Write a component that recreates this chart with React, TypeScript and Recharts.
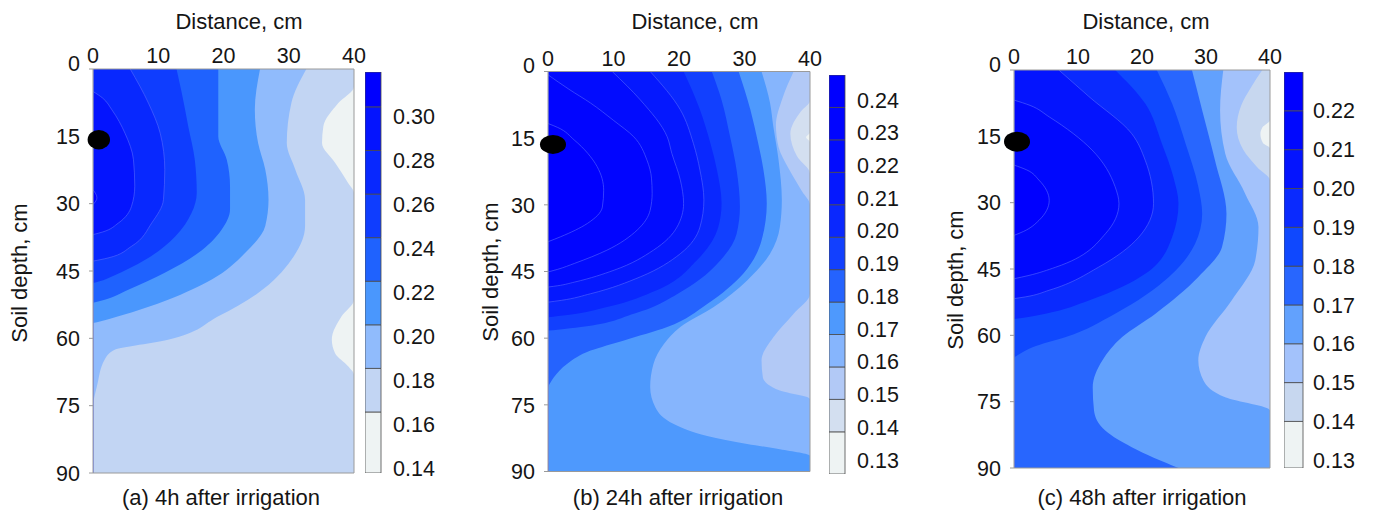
import React from 'react';
import { ComposedChart, Area, XAxis, YAxis, ReferenceDot, BarChart, Bar } from 'recharts';

const FONT = '"Liberation Sans", Arial, Helvetica, sans-serif';
const TEXT = '#151515';
const EDGE = '#9a9a9a';
const TICK_FS = 21.5;
const TITLE_FS = 22;

const distanceTicks = [0, 10, 20, 30, 40];
const depthTicks = [0, 15, 30, 45, 60, 75, 90];
const rightDepthTicks = [10, 20, 30, 40, 50, 60, 70, 80];
const bottomDistanceTicks = [10, 20, 30];

// ---------- (a) 4h after irrigation ----------
// contour boundaries: [depth cm, distance cm] ; region "value > level" lies left of the boundary
const aEdges = [0.132, 0.16, 0.18, 0.2, 0.22, 0.24, 0.26, 0.28, 0.3, 0.316];
const aTicks = [0.14, 0.16, 0.18, 0.2, 0.22, 0.24, 0.26, 0.28, 0.3];
const aColors = ['#eef3f3', '#c2d5f3', '#90bbfc', '#4a97fd', '#1f62fe', '#0f3dfe', '#0828fe', '#0414fe', '#0000fe'];
const aAll = [[0, 40], [90, 40]];
const a16 = [[0, 40], [3.9, 40], [7.6, 37.6], [12.8, 35.3], [16.5, 35.1], [20.9, 37.1], [25.4, 39.1], [27.6, 40], [51.4, 40], [55.1, 38.1], [60.3, 36.6], [63.3, 37.1], [66.2, 39.1], [68.1, 40], [90, 40]];
const a18 = [[0, 32.7], [7.6, 30.4], [16.5, 29.7], [22.4, 31.0], [29.1, 32.5], [35, 32.5], [42.5, 30.4], [49.9, 25.3], [55.1, 19.2], [60.3, 11.5], [61.6, 6.5], [62.5, 3.4], [64.7, 1.8], [70.7, 0.6], [74.4, 0]];
const a20 = [[0, 25.6], [9.1, 24.8], [16.5, 25.3], [22.4, 26.4], [29.1, 26.9], [35, 26.4], [41, 23.3], [46.9, 18.2], [51.4, 11.5], [55.1, 3.9], [56.2, 1.2], [56.6, 0]];
const a22 = [[0, 19.2], [15, 19.2], [20.2, 20.5], [26.1, 21.0], [31.3, 21.0], [35.8, 19.7], [41, 16.1], [45.4, 11.0], [49.2, 5.4], [51.4, 1.8], [52.1, 0]];
const a24 = [[0, 12.8], [5.3, 13.6], [12.8, 14.6], [20.2, 15.6], [27.6, 15.9], [32.1, 15.1], [37.3, 12.6], [42.5, 8.0], [46.2, 2.9], [47.3, 1], [47.7, 0]];
const a26 = [[0, 5.7], [7.6, 8.5], [14.3, 10.3], [22.4, 11.0], [29.1, 10.8], [34.3, 9.0], [39.5, 5.9], [42.1, 2.3], [42.8, 0]];
const a28 = [[5, 0], [6.5, 1.5], [9.1, 2.9], [14.3, 4.9], [20.2, 6.2], [26.1, 6.4], [30.6, 5.9], [34.3, 3.9], [36.3, 1.5], [36.9, 0]];
const a30 = [[26.9, 0], [28.7, 0.6], [30.2, 0]];
const aRegions = [aAll, a16, a18, a20, a22, a24, a26, a28, a30];
const aEmitter = [0.89, 15.75];

// ---------- (b) 24h after irrigation ----------
const bEdges = [0.127, 0.14, 0.15, 0.16, 0.17, 0.18, 0.19, 0.2, 0.21, 0.22, 0.23, 0.24, 0.25];
const bTicks = [0.13, 0.14, 0.15, 0.16, 0.17, 0.18, 0.19, 0.2, 0.21, 0.22, 0.23, 0.24];
const bColors = ['#eef3f3', '#d3dff0', '#b2c9f6', '#86b5fd', '#4e99fd', '#2563fe', '#1240fe', '#0a28fe', '#0518fe', '#020cfe', '#0105ff', '#0000ff'];
const bAll = [[0, 40], [90, 40]];
const b14 = [[0, 40], [13.7, 40], [14.8, 39.4], [15.9, 40], [90, 40]];
const b15 = [[0, 40], [6.5, 40], [9, 38.6], [14, 37.0], [19, 38.0], [23, 40], [90, 40]];
const b16 = [[0, 37.5], [6, 35.8], [12, 34.8], [17, 35.2], [22, 36.8], [27, 38.8], [30, 40], [50, 40], [54.5, 37.5], [59.8, 34.4], [65, 32.6], [68.8, 32.8], [71.8, 35.4], [73.7, 40], [90, 40]];
const b17 = [[0, 32.6], [7.1, 33.9], [12.4, 34.4], [19.9, 35.2], [28.9, 35.7], [35, 35.4], [41, 33.9], [47, 30.4], [53, 25.3], [57.5, 20.2], [61.3, 17.7], [65.8, 16.1], [71, 15.6], [75.6, 16.4], [79.3, 19.2], [82, 24.3], [83.8, 30.4], [85, 35.4], [86.5, 40], [90, 40]];
const b18 = [[0, 29.1], [8.6, 30.9], [16.2, 32.1], [22.2, 32.9], [29.7, 33.4], [38, 32.6], [45.5, 29.8], [52.3, 24.3], [57.5, 18.2], [60.5, 11.6], [62.8, 6.5], [65.8, 2.9], [68.8, 0.9], [71, 0]];
const b19 = [[0, 25.0], [6.4, 26.5], [14.7, 27.8], [22.2, 28.8], [30.5, 29.3], [36.5, 28.8], [42.5, 26.3], [49.2, 20.7], [54.5, 13.1], [57.5, 5.0], [58.1, 1.5], [58.3, 0]];
const b20 = [[0, 20.7], [8.6, 23.2], [16.2, 24.8], [22.2, 25.8], [29.7, 26.5], [35, 26.0], [42.5, 22.7], [49.2, 16.6], [53, 9.0], [54.8, 3], [55.3, 0]];
const b21 = [[0, 15.6], [8.6, 20.2], [16.2, 22.2], [22.2, 23.2], [28.9, 23.8], [35, 23.2], [41, 20.2], [46.2, 14.1], [50, 6.5], [51.5, 2], [51.9, 0]];
const b22 = [[0, 9.8], [6.4, 14.1], [14.7, 18.2], [18.4, 18.9], [24.4, 20.2], [29.7, 20.7], [35, 19.7], [40.2, 16.1], [44.7, 10.1], [47.4, 4.0], [48.2, 1.5], [48.5, 0]];
const b23 = [[0.75, 0], [4, 3.2], [7.1, 6.5], [11, 10.0], [14.7, 13.1], [19.9, 15.1], [24, 15.8], [27.4, 15.9], [31.2, 15.6], [35.7, 13.6], [40.2, 9.0], [43.2, 4.0], [44.5, 1.5], [45.1, 0]];
const b24 = [[11.7, 0], [12.6, 1.5], [15.4, 4.0], [21.4, 7.5], [26.7, 8.5], [30.5, 8.3], [34.2, 6.0], [37.2, 1.9], [38.3, 0]];
const bRegions = [bAll, b14, b15, b16, b17, b18, b19, b20, b21, b22, b23, b24];
const bEmitter = [0.76, 16.4];

// ---------- (c) 48h after irrigation ----------
const cEdges = [0.128, 0.14, 0.15, 0.16, 0.17, 0.18, 0.19, 0.2, 0.21, 0.22, 0.23];
const cTicks = [0.13, 0.14, 0.15, 0.16, 0.17, 0.18, 0.19, 0.2, 0.21, 0.22];
const cColors = ['#eef3f3', '#c7d7ef', '#a3c2fb', '#62a1fd', '#2866fe', '#0f48fe', '#0a2afe', '#0414fe', '#0008fe', '#0000ff'];
const cAll = [[0, 40], [90, 40]];
const c14 = [[0, 40], [11.3, 40], [13, 38.8], [14.5, 38.5], [16.5, 38.9], [17.7, 40], [90, 40]];
const c15 = [[0, 38.8], [4, 37], [8, 35.5], [13, 34.8], [18, 35.8], [22, 38], [25, 40], [90, 40]];
const c16 = [[0, 32.7], [9.1, 32.2], [18.9, 33], [27.9, 36.1], [35.5, 38.2], [43, 37.7], [52.1, 34], [60.4, 29.9], [65.7, 28.8], [70.2, 29.6], [74, 33], [77, 40], [90, 40]];
const c17 = [[0, 27.8], [9.1, 29.4], [20.4, 31.4], [32.5, 33.2], [40, 32.5], [46.8, 28.8], [55.1, 22.1], [60.4, 16.9], [65.7, 13.8], [71.8, 12.3], [77, 12.5], [81.6, 14.3], [85.3, 18.4], [90, 25.7]];
const c18 = [[0, 22.3], [7.6, 24.7], [16.6, 26.8], [26.4, 28.8], [32.5, 29.4], [39.3, 28.3], [46.8, 24.2], [55.1, 15.8], [60.4, 8.1], [62.7, 2.9], [64.3, 0.8], [65, 0]];
const c19 = [[0, 15.8], [7.6, 20.5], [16.6, 23.1], [24.2, 24.9], [30.2, 25.7], [37.8, 24.7], [46.1, 20.5], [52.1, 11.7], [55.1, 4.9], [56, 1.5], [56.3, 0]];
const c20 = [[0, 7.0], [6, 11.7], [14.4, 18.4], [20.4, 20.5], [30.2, 21.8], [37.8, 19.5], [44.6, 13.2], [49.8, 5.5], [51.3, 1.8], [51.7, 0]];
const c21 = [[6.8, 0], [8, 2.5], [10.6, 5.5], [18.1, 12.2], [26.4, 15.8], [30.2, 16.4], [37, 14.3], [44.6, 6.5], [46.5, 2.2], [47.2, 0]];
const c22 = [[21.5, 0], [22.6, 2], [24.9, 3.9], [29.5, 5.5], [34, 3.9], [36.5, 1.5], [37.4, 0]];
const cRegions = [cAll, c14, c15, c16, c17, c18, c19, c20, c21, c22];
const cEmitter = [0.47, 16.2];

function buildRows(regions: number[][][]) {
  const map = new Map<number, Record<string, any>>();
  regions.forEach((pts, i) => {
    pts.forEach(([d, x]) => {
      const row = map.get(d) ?? { d };
      row['k' + i] = [0, x];
      map.set(d, row);
    });
  });
  return Array.from(map.values()).sort((p, q) => p.d - q.d);
}

const DepthTick = (props: any) => {
  const { x, y, payload } = props;
  const dy = payload.value === 0 ? -6 : 0;
  return (
    <text x={x} y={y + dy} dy="0.36em" textAnchor="end" fontSize={TICK_FS} fill={TEXT}>
      {payload.value}
    </text>
  );
};

type PanelProps = {
  x0: number; w: number;
  plot: { l: number; t: number; r: number; b: number };
  regions: number[][][]; colors: string[]; lineFrom: number;
  emitter: number[]; rx: number; ry: number;
};

function ContourPanel({ x0, w, plot, regions, colors, lineFrom, emitter, rx, ry }: PanelProps) {
  const rows = buildRows(regions);
  const margin = { left: plot.l - x0 - 40, top: plot.t - 30, right: x0 + w - plot.r - 6, bottom: 513 - plot.b - 6 };
  return (
    <div style={{ position: 'absolute', left: x0, top: 0 }}>
      <ComposedChart layout="vertical" width={w} height={513} data={rows} margin={margin}>
        {regions.map((_, i) => (
          <Area
            key={i}
            xAxisId="top"
            yAxisId="left"
            dataKey={'k' + i}
            type="monotone"
            connectNulls
            fill={colors[i]}
            fillOpacity={1}
            stroke={i >= lineFrom ? '#5b6dff' : 'none'}
            strokeWidth={0.7}
            strokeOpacity={0.8}
            dot={false}
            activeDot={false}
            isAnimationActive={false}
          />
        ))}
        <ReferenceDot
          xAxisId="top"
          yAxisId="left"
          x={emitter[0]}
          y={emitter[1]}
          r={10}
          ifOverflow="visible"
          shape={(p: any) => <ellipse cx={p.cx} cy={p.cy} rx={rx} ry={ry} fill="#000" />}
        />
        <XAxis xAxisId="top" orientation="top" type="number" domain={[0, 40]} allowDataOverflow ticks={distanceTicks} interval={0}
          height={30} tickSize={2} tickMargin={4} tickLine={false} axisLine={{ stroke: EDGE }} tick={{ fill: TEXT, fontSize: TICK_FS }} />
        <XAxis xAxisId="bottom" orientation="bottom" type="number" domain={[0, 40]} allowDataOverflow ticks={bottomDistanceTicks} interval={0}
          height={6} tickSize={4} tick={false} tickLine={{ stroke: EDGE }} axisLine={{ stroke: EDGE }} />
        <YAxis yAxisId="left" orientation="left" type="number" dataKey="d" domain={[0, 90]} allowDataOverflow ticks={depthTicks} interval={0}
          width={40} tickSize={4} tickMargin={9} tickLine={{ stroke: EDGE }} axisLine={{ stroke: EDGE }} tick={<DepthTick />} />
        <YAxis yAxisId="right" orientation="right" type="number" domain={[0, 90]} allowDataOverflow ticks={rightDepthTicks} interval={0}
          width={6} tickSize={4} tick={false} tickLine={{ stroke: EDGE }} axisLine={{ stroke: EDGE }} />
      </ComposedChart>
    </div>
  );
}

type BarProps = {
  x0: number; barW: number; top: number; bottom: number;
  edges: number[]; colors: string[]; ticks: number[]; labelDomain: number[]; gap: number;
};

function ColorBar({ x0, barW, top, bottom, edges, colors, ticks, labelDomain, gap }: BarProps) {
  const row: Record<string, any> = { name: 'scale', base: edges[0] };
  for (let i = 1; i < edges.length; i++) row['s' + i] = edges[i] - edges[i - 1];
  const axisW = 80;
  return (
    <div style={{ position: 'absolute', left: x0, top: 0 }}>
      <BarChart width={barW + axisW} height={513} data={[row]} margin={{ top, bottom: 513 - bottom, left: 0, right: 0 }} barCategoryGap={0} barGap={0}>
        <XAxis dataKey="name" type="category" hide />
        <YAxis yAxisId="blocks" type="number" domain={[edges[0], edges[edges.length - 1]]} allowDataOverflow hide />
        <YAxis yAxisId="labels" orientation="right" type="number" domain={labelDomain} allowDataOverflow ticks={ticks} interval={0}
          width={axisW} tickSize={0} tickMargin={gap} axisLine={false} tickLine={false}
          tick={{ fill: TEXT, fontSize: TICK_FS }} tickFormatter={(v: number) => v.toFixed(2)} />
        <Bar yAxisId="blocks" dataKey="base" stackId="cb" fill="none" stroke="none" isAnimationActive={false} />
        {colors.map((c, i) => (
          <Bar key={i} yAxisId="blocks" dataKey={'s' + (i + 1)} stackId="cb" fill={c} stroke="#4a4a4a" strokeWidth={0.8} isAnimationActive={false} />
        ))}
      </BarChart>
    </div>
  );
}

function Txt({ x, y, children, rotate }: { x: number; y: number; children: React.ReactNode; rotate?: boolean }) {
  return (
    <div style={{
      position: 'absolute', left: x, top: y, whiteSpace: 'nowrap', fontSize: TITLE_FS, lineHeight: 1.15, color: TEXT,
      transform: rotate ? 'translate(-50%,-50%) rotate(-90deg)' : 'translate(-50%,-50%)',
    }}>{children}</div>
  );
}

export default function App() {
  return (
    <div style={{ position: 'absolute', left: 0, top: 0, width: 1373, height: 513, background: '#fff', fontFamily: FONT, overflow: 'hidden' }}>
      <ContourPanel x0={0} w={420} plot={{ l: 93, t: 69, r: 354, b: 473 }} regions={aRegions} colors={aColors} lineFrom={6} emitter={aEmitter} rx={11.2} ry={9.7} />
      <ColorBar x0={365} barW={16} top={72} bottom={473} edges={aEdges} colors={aColors} ticks={aTicks} labelDomain={[0.1377, 0.32]} gap={12} />
      <Txt x={239} y={22}>Distance, cm</Txt>
      <Txt x={19.5} y={273} rotate>Soil depth, cm</Txt>
      <Txt x={221} y={498}>(a) 4h after irrigation</Txt>

      <ContourPanel x0={460} w={420} plot={{ l: 548, t: 71.5, r: 810, b: 471.5 }} regions={bRegions} colors={bColors} lineFrom={8} emitter={bEmitter} rx={13} ry={9.5} />
      <ColorBar x0={829} barW={16} top={75} bottom={474} edges={bEdges} colors={bColors} ticks={bTicks} labelDomain={[0.1257, 0.2476]} gap={12} />
      <Txt x={695} y={22}>Distance, cm</Txt>
      <Txt x={491} y={272} rotate>Soil depth, cm</Txt>
      <Txt x={678} y={498}>(b) 24h after irrigation</Txt>

      <ContourPanel x0={930} w={420} plot={{ l: 1014, t: 70, r: 1270, b: 468 }} regions={cRegions} colors={cColors} lineFrom={7} emitter={cEmitter} rx={13} ry={10} />
      <ColorBar x0={1284} barW={19} top={72} bottom={468} edges={cEdges} colors={cColors} ticks={cTicks} labelDomain={[0.128, 0.23]} gap={10} />
      <Txt x={1146} y={22}>Distance, cm</Txt>
      <Txt x={956} y={280} rotate>Soil depth, cm</Txt>
      <Txt x={1142} y={498}>(c) 48h after irrigation</Txt>
    </div>
  );
}
